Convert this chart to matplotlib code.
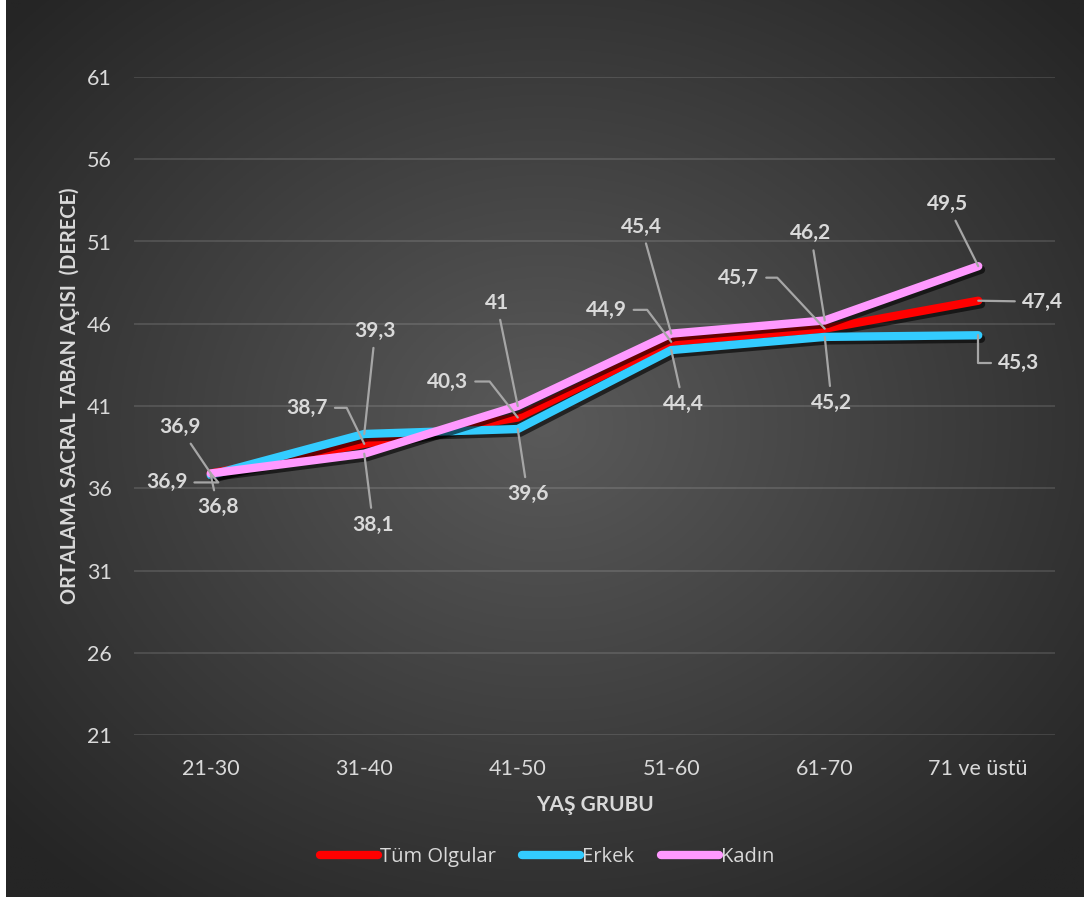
import numpy as np
import matplotlib.pyplot as plt
import matplotlib.patheffects as pe

# veri
kategoriler = ["21-30", "31-40", "41-50", "51-60", "61-70", "71 ve üstü"]
tum_olgular = [36.9, 38.7, 40.3, 44.9, 45.7, 47.4]
erkek = [36.8, 39.3, 39.6, 44.4, 45.2, 45.3]
kadin = [36.9, 38.1, 41.0, 45.4, 46.2, 49.5]
y_ticks = [21, 26, 31, 36, 41, 46, 51, 56, 61]

# etiket konumlari (piksel ofset) ve baglanti cizgisi tipi
ofs_tum = [(-44, -9), (-57, 36), (-70, 36), (-65, 32), (-86, 51), (64, -1)]
ofs_erkek = [(7, -32), (11, 103), (10, -65), (12, -54), (7, -66), (40, -28)]
ofs_kadin = [(-31, 46), (9, -71), (-21, 103), (-30, 107), (-14, 87), (-31, 62)]
con_tum = ["angle,angleA=0,angleB=130,rad=0", "angle,angleA=0,angleB=116,rad=0",
           "angle,angleA=0,angleB=128,rad=0", "angle,angleA=0,angleB=127,rad=0",
           "angle,angleA=0,angleB=133,rad=0", "arc3,rad=0"]
con_erkek = ["arc3,rad=0"] * 5 + ["angle,angleA=0,angleB=90,rad=0"]
con_kadin = ["arc3,rad=0"] * 6

yazi = "#d9d9d9"
fig = plt.figure(figsize=(10.84, 8.97), dpi=100)

# arka plan - radyal gradyan
bg = fig.add_axes([6 / 1084, 0, 1 - 6 / 1084, 1], zorder=-5)
gx, gy = np.meshgrid(np.linspace(-1, 1, 400), np.linspace(-1, 1, 330))
r = np.sqrt((gx * 1.0) ** 2 + ((gy + 0.05) * 1.0) ** 2) / 1.35
r = np.clip(r, 0, 1)
renk = 0x5a / 255 * (1 - r) + 0x25 / 255 * r
bg.imshow(np.dstack([renk, renk, renk]), aspect="auto", extent=[0, 1, 0, 1])
bg.axis("off")

ax = fig.add_axes([134 / 1084, 162 / 897, 921 / 1084, 658 / 897])
ax.set_facecolor("none")
x = np.arange(len(kategoriler))

seriler = [("Tüm Olgular", tum_olgular, "#ff0000", ofs_tum, con_tum),
           ("Erkek", erkek, "#33ccff", ofs_erkek, con_erkek),
           ("Kadın", kadin, "#ff99ff", ofs_kadin, con_kadin)]

golge = [pe.SimpleLineShadow(offset=(2, -2.5), shadow_color="black", alpha=0.6),
         pe.Normal()]
for ad, deger, c, ofs, con in seriler:
    ax.plot(x, deger, color=c, lw=6, solid_capstyle="round",
            solid_joinstyle="miter", label=ad, path_effects=golge, zorder=3)

for ad, deger, c, ofs, con in seriler:
    for i, v in enumerate(deger):
        ax.annotate(f"{v:g}".replace(".", ","), xy=(i, v), xytext=ofs[i],
                    textcoords="offset pixels", ha="center", va="center",
                    fontsize=15, fontweight="bold", color=yazi,
                    family="Lato", zorder=5,
                    arrowprops=dict(arrowstyle="-", color="#a6a6a6", lw=1.6,
                                    connectionstyle=con[i], shrinkA=3, shrinkB=0))

ax.set_xlim(-0.5, 5.5)
ax.set_ylim(21, 61)
ax.set_yticks(y_ticks)
ax.set_xticks(x)
ax.set_xticklabels(kategoriler)
ax.grid(axis="y", color="white", alpha=0.13, lw=1.3)
ax.set_axisbelow(True)
for s in ax.spines.values():
    s.set_visible(False)
ax.tick_params(length=0, colors=yazi, labelsize=15.5)
ax.tick_params(axis="y", pad=16)
ax.tick_params(axis="x", pad=17)
for t in ax.get_xticklabels() + ax.get_yticklabels():
    t.set_family("Lato")

ax.set_xlabel("YAŞ GRUBU", fontsize=15, fontweight="bold", color=yazi,
              family="Lato", labelpad=12)
ax.set_ylabel("ORTALAMA SACRAL TABAN AÇISI  (DERECE)", fontsize=14.4,
              fontweight="bold", color=yazi, family="Lato")
ax.yaxis.set_label_coords(-0.059, 0.516)

leg = fig.legend(loc="center", bbox_to_anchor=(547 / 1084, 1 - 857 / 897),
                 ncol=3, frameon=False, handlelength=2.9, handletextpad=0.1,
                 columnspacing=1.3, prop={"family": "Open Sans", "size": 14.5})
for t in leg.get_texts():
    t.set_color(yazi)
for h in leg.get_lines():
    h.set_linewidth(6)
    h.set_solid_capstyle("round")
    h.set_path_effects([])

fig.savefig("out.png", dpi=100)
